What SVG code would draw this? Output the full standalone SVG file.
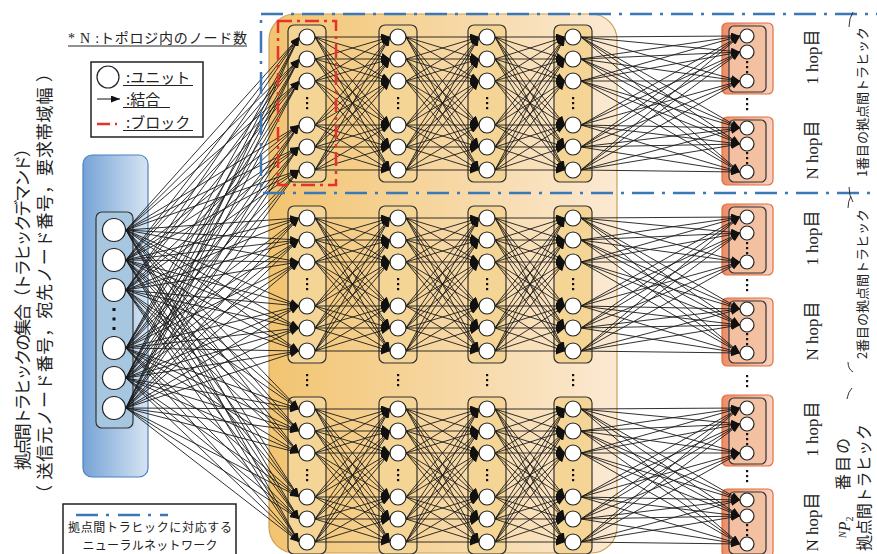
<svg xmlns="http://www.w3.org/2000/svg" xmlns:xlink="http://www.w3.org/1999/xlink" width="877" height="554" viewBox="0 0 877 554">
<style>
.j{font-family:"Noto Sans CJK JP","Noto Sans",sans-serif;fill:#222}
.s{font-family:"Liberation Serif","Noto Sans CJK JP",serif;fill:#222}
.col{fill:#f5d596;stroke:#333;stroke-width:1.2}
.u circle{fill:#fff;stroke:#222;stroke-width:1.2}
.ob{fill:url(#gs);stroke:#e0703c;stroke-width:1.2}
.ib{fill:#f3c1a2;stroke:#333;stroke-width:1.2}
.d{fill:#111}
.ul{stroke:#222;stroke-width:1.2}
</style>
<defs>
<marker id="ah" viewBox="0 0 9 7" refX="9" refY="3.5" markerWidth="9" markerHeight="7" markerUnits="userSpaceOnUse" orient="auto"><path d="M0,0L9,3.5L0,7z" fill="#111"/></marker>
<linearGradient id="go" x1="0" y1="0" x2="1" y2="0"><stop offset="0" stop-color="#f2c470"/><stop offset="1" stop-color="#fbe9d2"/></linearGradient>
<linearGradient id="gb" x1="0" y1="0" x2="1" y2="0"><stop offset="0" stop-color="#76a3d6"/><stop offset="1" stop-color="#d6e4f2"/></linearGradient>
<linearGradient id="gs" x1="0" y1="0" x2="1" y2="0"><stop offset="0" stop-color="#ec8c68"/><stop offset="1" stop-color="#f8d3c3"/></linearGradient>
<g id="vd" class="d"><rect x="-1" y="-6" width="2.2" height="2.2"/><rect x="-1" y="-1" width="2.2" height="2.2"/><rect x="-1" y="4" width="2.2" height="2.2"/></g>
<g id="m1"><path d="M315 0 390 0"/><path d="M315 0 390 22"/><path d="M315 0 390 44"/><path d="M315 0 390 88"/><path d="M315 0 390 110"/><path d="M315 0 390 133"/><path d="M315 22 390 0"/><path d="M315 22 390 22"/><path d="M315 22 390 44"/><path d="M315 22 390 88"/><path d="M315 22 390 110"/><path d="M315 22 390 133"/><path d="M315 44 390 0"/><path d="M315 44 390 22"/><path d="M315 44 390 44"/><path d="M315 44 390 88"/><path d="M315 44 390 110"/><path d="M315 44 390 133"/><path d="M315 88 390 0"/><path d="M315 88 390 22"/><path d="M315 88 390 44"/><path d="M315 88 390 88"/><path d="M315 88 390 110"/><path d="M315 88 390 133"/><path d="M315 110 390 0"/><path d="M315 110 390 22"/><path d="M315 110 390 44"/><path d="M315 110 390 88"/><path d="M315 110 390 110"/><path d="M315 110 390 133"/><path d="M315 133 390 0"/><path d="M315 133 390 22"/><path d="M315 133 390 44"/><path d="M315 133 390 88"/><path d="M315 133 390 110"/><path d="M315 133 390 133"/></g>
<g id="m2"><path d="M406 0 479 0"/><path d="M406 0 479 22"/><path d="M406 0 479 44"/><path d="M406 0 479 88"/><path d="M406 0 479 110"/><path d="M406 0 479 133"/><path d="M406 22 479 0"/><path d="M406 22 479 22"/><path d="M406 22 479 44"/><path d="M406 22 479 88"/><path d="M406 22 479 110"/><path d="M406 22 479 133"/><path d="M406 44 479 0"/><path d="M406 44 479 22"/><path d="M406 44 479 44"/><path d="M406 44 479 88"/><path d="M406 44 479 110"/><path d="M406 44 479 133"/><path d="M406 88 479 0"/><path d="M406 88 479 22"/><path d="M406 88 479 44"/><path d="M406 88 479 88"/><path d="M406 88 479 110"/><path d="M406 88 479 133"/><path d="M406 110 479 0"/><path d="M406 110 479 22"/><path d="M406 110 479 44"/><path d="M406 110 479 88"/><path d="M406 110 479 110"/><path d="M406 110 479 133"/><path d="M406 133 479 0"/><path d="M406 133 479 22"/><path d="M406 133 479 44"/><path d="M406 133 479 88"/><path d="M406 133 479 110"/><path d="M406 133 479 133"/></g>
<g id="m3"><path d="M495 0 565 0"/><path d="M495 0 565 22"/><path d="M495 0 565 44"/><path d="M495 0 565 88"/><path d="M495 0 565 110"/><path d="M495 0 565 133"/><path d="M495 22 565 0"/><path d="M495 22 565 22"/><path d="M495 22 565 44"/><path d="M495 22 565 88"/><path d="M495 22 565 110"/><path d="M495 22 565 133"/><path d="M495 44 565 0"/><path d="M495 44 565 22"/><path d="M495 44 565 44"/><path d="M495 44 565 88"/><path d="M495 44 565 110"/><path d="M495 44 565 133"/><path d="M495 88 565 0"/><path d="M495 88 565 22"/><path d="M495 88 565 44"/><path d="M495 88 565 88"/><path d="M495 88 565 110"/><path d="M495 88 565 133"/><path d="M495 110 565 0"/><path d="M495 110 565 22"/><path d="M495 110 565 44"/><path d="M495 110 565 88"/><path d="M495 110 565 110"/><path d="M495 110 565 133"/><path d="M495 133 565 0"/><path d="M495 133 565 22"/><path d="M495 133 565 44"/><path d="M495 133 565 88"/><path d="M495 133 565 110"/><path d="M495 133 565 133"/></g>
<g id="mo"><path d="M581 0 740 -1"/><path d="M581 0 740 15"/><path d="M581 0 740 44"/><path d="M581 0 740 91"/><path d="M581 0 740 107"/><path d="M581 0 740 135"/><path d="M581 22 740 -1"/><path d="M581 22 740 15"/><path d="M581 22 740 44"/><path d="M581 22 740 91"/><path d="M581 22 740 107"/><path d="M581 22 740 135"/><path d="M581 44 740 -1"/><path d="M581 44 740 15"/><path d="M581 44 740 44"/><path d="M581 44 740 91"/><path d="M581 44 740 107"/><path d="M581 44 740 135"/><path d="M581 88 740 -1"/><path d="M581 88 740 15"/><path d="M581 88 740 44"/><path d="M581 88 740 91"/><path d="M581 88 740 107"/><path d="M581 88 740 135"/><path d="M581 110 740 -1"/><path d="M581 110 740 15"/><path d="M581 110 740 44"/><path d="M581 110 740 91"/><path d="M581 110 740 107"/><path d="M581 110 740 135"/><path d="M581 133 740 -1"/><path d="M581 133 740 15"/><path d="M581 133 740 44"/><path d="M581 133 740 91"/><path d="M581 133 740 107"/><path d="M581 133 740 135"/></g>
</defs>

<rect width="877" height="554" fill="#fff"/>

<g id="title">
<text class="j" font-size="17" transform="translate(29,470) rotate(-90)" textLength="330" lengthAdjust="spacing">拠点間トラヒックの集合（トラヒックデマンド）</text>
<text class="j" font-size="17" transform="translate(51,502) rotate(-90)" textLength="437" lengthAdjust="spacing">（ 送信元ノード番号，宛先ノード番号，要求帯域幅 ）</text>
</g>

<g id="note">
<text class="s" x="68" y="43" font-size="14" textLength="179" lengthAdjust="spacing">* N :トポロジ内のノード数</text>
<line class="ul" x1="68" y1="46" x2="247" y2="46"/>
</g>

<g id="legend">
<rect x="91" y="62" width="112" height="75" fill="#fff" stroke="#222" stroke-width="1.5"/>
<circle cx="108" cy="77" r="11" fill="#fff" stroke="#222" stroke-width="1.2"/>
<text class="j" x="126" y="83" font-size="15">:ユニット</text>
<line class="ul" x1="123" y1="85.5" x2="193" y2="85.5"/>
<line x1="97" y1="99" x2="120" y2="99" stroke="#111" stroke-width="1" marker-end="url(#ah)"/>
<text class="j" x="126" y="105" font-size="15">:結合</text>
<line class="ul" x1="123" y1="107.5" x2="170" y2="107.5"/>
<line x1="97" y1="124" x2="118" y2="124" stroke="#e8302c" stroke-width="2.5" stroke-dasharray="13 5 2 5"/>
<text class="j" x="126" y="128" font-size="15">:ブロック</text>
<line class="ul" x1="123" y1="130.5" x2="193" y2="130.5"/>
</g>

<g id="legend2">
<rect x="63" y="504" width="173" height="70" fill="#fff" stroke="#222" stroke-width="1.5"/>
<line x1="76" y1="515" x2="168" y2="515" stroke="#3b78b6" stroke-width="2.5" stroke-dasharray="22 8 3 9"/>
<text class="j" x="150" y="532" font-size="12" text-anchor="middle" textLength="164" lengthAdjust="spacing">拠点間トラヒックに対応する</text>
<text class="j" x="150" y="549.5" font-size="12" text-anchor="middle" textLength="135" lengthAdjust="spacing">ニューラルネットワーク</text>
</g>

<g id="input-box">
<rect x="83" y="155" width="65" height="322" rx="9" fill="url(#gb)" stroke="#4a82c2" stroke-width="1.2"/>
<rect x="96" y="212" width="37" height="216" rx="6" fill="#a7c7e1" stroke="#333" stroke-width="1.2"/>
<rect class="d" x="112.5" y="308" width="3" height="3"/><rect class="d" x="112.5" y="317.5" width="3" height="3"/><rect class="d" x="112.5" y="327" width="3" height="3"/>
</g>

<g id="nn-area">
<rect x="269" y="14" width="348" height="539" rx="26" fill="url(#go)" stroke="#c9a05a" stroke-width="1.2"/>
</g>

<g id="frames">
<rect id="f1c1" class="col" x="288" y="25" width="38" height="157" rx="6"/>
<rect id="f1c2" class="col" x="379" y="25" width="38" height="157" rx="6"/>
<rect id="f1c3" class="col" x="468" y="25" width="38" height="157" rx="6"/>
<rect id="f1c4" class="col" x="554" y="25" width="38" height="157" rx="6"/>
<rect id="f2c1" class="col" x="288" y="206" width="38" height="157" rx="6"/>
<rect id="f2c2" class="col" x="379" y="206" width="38" height="157" rx="6"/>
<rect id="f2c3" class="col" x="468" y="206" width="38" height="157" rx="6"/>
<rect id="f2c4" class="col" x="554" y="206" width="38" height="157" rx="6"/>
<rect id="f3c1" class="col" x="288" y="397" width="38" height="157" rx="6"/>
<rect id="f3c2" class="col" x="379" y="397" width="38" height="157" rx="6"/>
<rect id="f3c3" class="col" x="468" y="397" width="38" height="157" rx="6"/>
<rect id="f3c4" class="col" x="554" y="397" width="38" height="157" rx="6"/>
<rect class="ob" x="722" y="23" width="51" height="71" rx="5"/><rect class="ib" x="729" y="26" width="37" height="66" rx="5"/>
<rect class="ob" x="722" y="117" width="51" height="68" rx="5"/><rect class="ib" x="729" y="120" width="37" height="62" rx="5"/>
<rect class="ob" x="722" y="204" width="51" height="71" rx="5"/><rect class="ib" x="729" y="207" width="37" height="66" rx="5"/>
<rect class="ob" x="722" y="298" width="51" height="68" rx="5"/><rect class="ib" x="729" y="301" width="37" height="62" rx="5"/>
<rect class="ob" x="722" y="395" width="51" height="71" rx="5"/><rect class="ib" x="729" y="398" width="37" height="66" rx="5"/>
<rect class="ob" x="722" y="489" width="51" height="68" rx="5"/><rect class="ib" x="729" y="492" width="37" height="62" rx="5"/>
</g>

<g id="dots">
<use href="#vd" x="307" y="103"/><use href="#vd" x="398" y="103"/><use href="#vd" x="487" y="103"/><use href="#vd" x="573" y="103"/>
<use href="#vd" x="307" y="284"/><use href="#vd" x="398" y="284"/><use href="#vd" x="487" y="284"/><use href="#vd" x="573" y="284"/>
<use href="#vd" x="307" y="475"/><use href="#vd" x="398" y="475"/><use href="#vd" x="487" y="475"/><use href="#vd" x="573" y="475"/>
<use href="#vd" x="307" y="380"/><use href="#vd" x="398" y="380"/><use href="#vd" x="487" y="380"/><use href="#vd" x="573" y="380"/><use href="#vd" x="747" y="381"/>
<use href="#vd" x="747" y="67"/><use href="#vd" x="747" y="104"/><use href="#vd" x="747" y="158"/>
<use href="#vd" x="747" y="248"/><use href="#vd" x="747" y="285"/><use href="#vd" x="747" y="339"/>
<use href="#vd" x="747" y="439"/><use href="#vd" x="747" y="476"/><use href="#vd" x="747" y="530"/>
</g>

<g id="connectors" fill="none" stroke="#1a1a1a" stroke-width="0.9" marker-end="url(#ah)">
<path d="M126 230 299 37"/><path d="M126 230 299 59"/><path d="M126 230 299 81"/><path d="M126 230 299 125"/><path d="M126 230 299 147"/><path d="M126 230 299 170"/><path d="M126 230 299 218"/><path d="M126 230 299 240"/><path d="M126 230 299 262"/><path d="M126 230 299 306"/><path d="M126 230 299 328"/><path d="M126 230 299 351"/><path d="M126 230 299 409"/><path d="M126 230 299 431"/><path d="M126 230 299 453"/><path d="M126 230 299 497"/><path d="M126 230 299 519"/><path d="M126 230 299 542"/>
<path d="M126 260 299 37"/><path d="M126 260 299 59"/><path d="M126 260 299 81"/><path d="M126 260 299 125"/><path d="M126 260 299 147"/><path d="M126 260 299 170"/><path d="M126 260 299 218"/><path d="M126 260 299 240"/><path d="M126 260 299 262"/><path d="M126 260 299 306"/><path d="M126 260 299 328"/><path d="M126 260 299 351"/><path d="M126 260 299 409"/><path d="M126 260 299 431"/><path d="M126 260 299 453"/><path d="M126 260 299 497"/><path d="M126 260 299 519"/><path d="M126 260 299 542"/>
<path d="M126 290 299 37"/><path d="M126 290 299 59"/><path d="M126 290 299 81"/><path d="M126 290 299 125"/><path d="M126 290 299 147"/><path d="M126 290 299 170"/><path d="M126 290 299 218"/><path d="M126 290 299 240"/><path d="M126 290 299 262"/><path d="M126 290 299 306"/><path d="M126 290 299 328"/><path d="M126 290 299 351"/><path d="M126 290 299 409"/><path d="M126 290 299 431"/><path d="M126 290 299 453"/><path d="M126 290 299 497"/><path d="M126 290 299 519"/><path d="M126 290 299 542"/>
<path d="M126 348 299 37"/><path d="M126 348 299 59"/><path d="M126 348 299 81"/><path d="M126 348 299 125"/><path d="M126 348 299 147"/><path d="M126 348 299 170"/><path d="M126 348 299 218"/><path d="M126 348 299 240"/><path d="M126 348 299 262"/><path d="M126 348 299 306"/><path d="M126 348 299 328"/><path d="M126 348 299 351"/><path d="M126 348 299 409"/><path d="M126 348 299 431"/><path d="M126 348 299 453"/><path d="M126 348 299 497"/><path d="M126 348 299 519"/><path d="M126 348 299 542"/>
<path d="M126 378 299 37"/><path d="M126 378 299 59"/><path d="M126 378 299 81"/><path d="M126 378 299 125"/><path d="M126 378 299 147"/><path d="M126 378 299 170"/><path d="M126 378 299 218"/><path d="M126 378 299 240"/><path d="M126 378 299 262"/><path d="M126 378 299 306"/><path d="M126 378 299 328"/><path d="M126 378 299 351"/><path d="M126 378 299 409"/><path d="M126 378 299 431"/><path d="M126 378 299 453"/><path d="M126 378 299 497"/><path d="M126 378 299 519"/><path d="M126 378 299 542"/>
<path d="M126 408 299 37"/><path d="M126 408 299 59"/><path d="M126 408 299 81"/><path d="M126 408 299 125"/><path d="M126 408 299 147"/><path d="M126 408 299 170"/><path d="M126 408 299 218"/><path d="M126 408 299 240"/><path d="M126 408 299 262"/><path d="M126 408 299 306"/><path d="M126 408 299 328"/><path d="M126 408 299 351"/><path d="M126 408 299 409"/><path d="M126 408 299 431"/><path d="M126 408 299 453"/><path d="M126 408 299 497"/><path d="M126 408 299 519"/><path d="M126 408 299 542"/>
<use href="#m1" y="37"/><use href="#m2" y="37"/><use href="#m3" y="37"/><use href="#mo" y="37"/>
<use href="#m1" y="218"/><use href="#m2" y="218"/><use href="#m3" y="218"/><use href="#mo" y="218"/>
<use href="#m1" y="409"/><use href="#m2" y="409"/><use href="#m3" y="409"/><use href="#mo" y="409"/>
</g>

<g id="in-units" class="u"><circle cx="114" cy="230" r="11.5"/><circle cx="114" cy="260" r="11.5"/><circle cx="114" cy="290" r="11.5"/><circle cx="114" cy="348" r="11.5"/><circle cx="114" cy="378" r="11.5"/><circle cx="114" cy="408" r="11.5"/></g>
<g id="g1c1" class="u"><circle cx="307" cy="37" r="8"/><circle cx="307" cy="59" r="8"/><circle cx="307" cy="81" r="8"/><circle cx="307" cy="125" r="8"/><circle cx="307" cy="147" r="8"/><circle cx="307" cy="170" r="8"/></g>
<g id="g1c2" class="u"><circle cx="398" cy="37" r="8"/><circle cx="398" cy="59" r="8"/><circle cx="398" cy="81" r="8"/><circle cx="398" cy="125" r="8"/><circle cx="398" cy="147" r="8"/><circle cx="398" cy="170" r="8"/></g>
<g id="g1c3" class="u"><circle cx="487" cy="37" r="8"/><circle cx="487" cy="59" r="8"/><circle cx="487" cy="81" r="8"/><circle cx="487" cy="125" r="8"/><circle cx="487" cy="147" r="8"/><circle cx="487" cy="170" r="8"/></g>
<g id="g1c4" class="u"><circle cx="573" cy="37" r="8"/><circle cx="573" cy="59" r="8"/><circle cx="573" cy="81" r="8"/><circle cx="573" cy="125" r="8"/><circle cx="573" cy="147" r="8"/><circle cx="573" cy="170" r="8"/></g>
<g id="g2c1" class="u"><circle cx="307" cy="218" r="8"/><circle cx="307" cy="240" r="8"/><circle cx="307" cy="262" r="8"/><circle cx="307" cy="306" r="8"/><circle cx="307" cy="328" r="8"/><circle cx="307" cy="351" r="8"/></g>
<g id="g2c2" class="u"><circle cx="398" cy="218" r="8"/><circle cx="398" cy="240" r="8"/><circle cx="398" cy="262" r="8"/><circle cx="398" cy="306" r="8"/><circle cx="398" cy="328" r="8"/><circle cx="398" cy="351" r="8"/></g>
<g id="g2c3" class="u"><circle cx="487" cy="218" r="8"/><circle cx="487" cy="240" r="8"/><circle cx="487" cy="262" r="8"/><circle cx="487" cy="306" r="8"/><circle cx="487" cy="328" r="8"/><circle cx="487" cy="351" r="8"/></g>
<g id="g2c4" class="u"><circle cx="573" cy="218" r="8"/><circle cx="573" cy="240" r="8"/><circle cx="573" cy="262" r="8"/><circle cx="573" cy="306" r="8"/><circle cx="573" cy="328" r="8"/><circle cx="573" cy="351" r="8"/></g>
<g id="g3c1" class="u"><circle cx="307" cy="409" r="8"/><circle cx="307" cy="431" r="8"/><circle cx="307" cy="453" r="8"/><circle cx="307" cy="497" r="8"/><circle cx="307" cy="519" r="8"/><circle cx="307" cy="542" r="8"/></g>
<g id="g3c2" class="u"><circle cx="398" cy="409" r="8"/><circle cx="398" cy="431" r="8"/><circle cx="398" cy="453" r="8"/><circle cx="398" cy="497" r="8"/><circle cx="398" cy="519" r="8"/><circle cx="398" cy="542" r="8"/></g>
<g id="g3c3" class="u"><circle cx="487" cy="409" r="8"/><circle cx="487" cy="431" r="8"/><circle cx="487" cy="453" r="8"/><circle cx="487" cy="497" r="8"/><circle cx="487" cy="519" r="8"/><circle cx="487" cy="542" r="8"/></g>
<g id="g3c4" class="u"><circle cx="573" cy="409" r="8"/><circle cx="573" cy="431" r="8"/><circle cx="573" cy="453" r="8"/><circle cx="573" cy="497" r="8"/><circle cx="573" cy="519" r="8"/><circle cx="573" cy="542" r="8"/></g>
<g id="out1" class="u"><circle cx="747" cy="36" r="7"/><circle cx="747" cy="52" r="7"/><circle cx="747" cy="81" r="7"/><circle cx="747" cy="128" r="7"/><circle cx="747" cy="144" r="7"/><circle cx="747" cy="172" r="7"/></g>
<g id="out2" class="u"><circle cx="747" cy="217" r="7"/><circle cx="747" cy="233" r="7"/><circle cx="747" cy="262" r="7"/><circle cx="747" cy="309" r="7"/><circle cx="747" cy="325" r="7"/><circle cx="747" cy="353" r="7"/></g>
<g id="out3" class="u"><circle cx="747" cy="408" r="7"/><circle cx="747" cy="424" r="7"/><circle cx="747" cy="453" r="7"/><circle cx="747" cy="500" r="7"/><circle cx="747" cy="516" r="7"/><circle cx="747" cy="544" r="7"/></g>

<rect id="block" x="278" y="21" width="58" height="164" fill="none" stroke="#e8302c" stroke-width="2.5" stroke-dasharray="14 5 3 5"/>
<rect id="traffic-nn" x="261" y="14" width="640" height="179" fill="none" stroke="#3b78b6" stroke-width="2.5" stroke-dasharray="22 8 3 8"/>

<g id="hop-labels" class="s" font-size="17" text-anchor="middle">
<text transform="translate(818,57) rotate(-90)">1 hop目</text>
<text transform="translate(818,150) rotate(-90)">N hop目</text>
<text transform="translate(818,238) rotate(-90)">1 hop目</text>
<text transform="translate(818,331) rotate(-90)">N hop目</text>
<text transform="translate(818,429) rotate(-90)">1 hop目</text>
<text transform="translate(818,522) rotate(-90)">N hop目</text>
</g>

<g id="traffic-labels">
<text class="j" font-size="13" text-anchor="middle" transform="translate(867,102) rotate(-90)">1番目の拠点間トラヒック</text>
<text class="j" font-size="13" text-anchor="middle" transform="translate(867,284) rotate(-90)">2番目の拠点間トラヒック</text>
<text class="s" transform="translate(850,538) rotate(-90)"><tspan font-size="10" font-style="italic" dy="-4">N</tspan><tspan font-size="16" font-style="italic" dy="4">P</tspan><tspan font-size="10" dy="3">2</tspan></text>
<text class="j" font-size="16" transform="translate(849,490) rotate(-90)" textLength="52" lengthAdjust="spacing">番目の</text>
<text class="j" font-size="16" transform="translate(870,551) rotate(-90)" textLength="127" lengthAdjust="spacing">拠点間トラヒック</text>
<g fill="none" stroke="#333" stroke-width="1">
<path d="M853,12 Q849,18 849,27"/>
<path d="M849,187 Q849,196 853,202"/>
<path d="M851,196 Q848,201 848,208"/>
<path d="M848,362 Q848,369 853,372"/>
<path d="M852,388 Q848,392 847,399"/>
</g>
</g>
</svg>
